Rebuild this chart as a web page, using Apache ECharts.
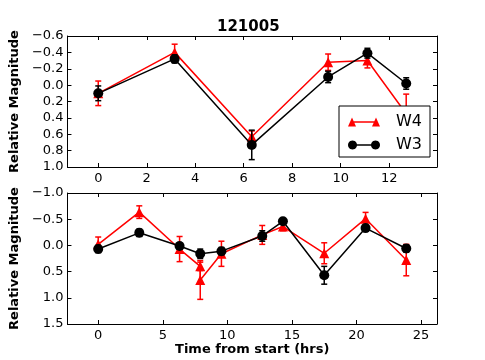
<!DOCTYPE html>
<html>
<head>
<meta charset="utf-8">
<title>121005</title>
<script src="https://cdn.jsdelivr.net/npm/echarts@6/dist/echarts.min.js"></script>
<style>
    html, body { margin: 0; padding: 0; background: #fff; }
    #lightcurve { width: 485px; height: 360px; }
</style>
</head>
<body>
<div id="lightcurve"></div>
<script>

// Data
// ------------------------------

// Top panel
var topTimeW4 = [0, 3.15, 6.33, 9.48, 11.1, 12.7];
var topMagW4  = [0.10, -0.40, 0.63, -0.28, -0.30, 0.35];
var topErrW4  = [0.15, 0.10, 0.07, 0.10, 0.09, 0.24];

var topTimeW3 = [0, 3.15, 6.33, 9.48, 11.1, 12.7];
var topMagW3  = [0.10, -0.32, 0.73, -0.10, -0.39, -0.02];
var topErrW3  = [0.09, 0.05, 0.18, 0.07, 0.06, 0.07];

// Bottom panel
var botTimeW4 = [0, 3.18, 6.3, 7.9, 7.9, 9.54, 12.7, 14.3, 17.5, 20.7, 23.85];
var botMagW4  = [-0.02, -0.635, 0.07, 0.40, 0.66, 0.16, -0.20, -0.36, 0.15, -0.51, 0.28];
var botErrW4  = [0.14, 0.12, 0.24, 0.08, 0.37, 0.24, 0.18, 0.08, 0.20, 0.12, 0.30];

var botTimeW3 = [0, 3.18, 6.3, 7.9, 9.54, 12.7, 14.3, 17.5, 20.7, 23.85];
var botMagW3  = [0.07, -0.24, 0.01, 0.16, 0.11, -0.18, -0.46, 0.57, -0.33, 0.06];
var botErrW3  = [0.07, 0.07, 0.06, 0.09, 0.07, 0.10, 0.05, 0.17, 0.06, 0.07];

var seriesNames = ['W4', 'W3'];
var seriesColors = ['#ff0000', '#000000'];


// Setup module
// ------------------------------

var LightCurveChart = function() {

    var fontFamily = 'DejaVu Sans';

    // zip helpers
    var points = function(t, m) {
        return t.map(function(x, i) { return [x, m[i]]; });
    };
    var bars = function(t, m, e) {
        return t.map(function(x, i) { return [x, m[i], e[i]]; });
    };

    // matplotlib style minus sign
    var magLabel = function(v) {
        var s = (Math.abs(v) < 1e-9 ? 0 : v).toFixed(1);
        return s.replace('-', '\u2212');
    };

    // error bars with caps
    var errorBars = function(name, color, data, axis, z) {
        return {
            name: name,
            type: 'custom',
            xAxisIndex: axis,
            yAxisIndex: axis,
            z: z,
            data: data,
            encode: { x: 0, y: 1 },
            renderItem: function(params, api) {
                var x = api.value(0), y = api.value(1), e = api.value(2);
                var hi = api.coord([x, y - e]);
                var lo = api.coord([x, y + e]);
                var cap = 3;
                var st = { stroke: color, lineWidth: 1.5 };
                return {
                    type: 'group',
                    children: [
                        { type: 'line', shape: { x1: hi[0], y1: hi[1], x2: lo[0], y2: lo[1] }, style: st },
                        { type: 'line', shape: { x1: hi[0] - cap, y1: hi[1], x2: hi[0] + cap, y2: hi[1] }, style: st },
                        { type: 'line', shape: { x1: lo[0] - cap, y1: lo[1], x2: lo[0] + cap, y2: lo[1] }, style: st }
                    ]
                };
            }
        };
    };

    var lineSeries = function(name, color, data, axis, symbol, size, z) {
        return {
            name: name,
            type: 'line',
            xAxisIndex: axis,
            yAxisIndex: axis,
            z: z,
            data: data,
            symbol: symbol,
            symbolSize: size,
            showAllSymbol: true,
            color: color,
            itemStyle: { color: color, borderWidth: 0 },
            lineStyle: { color: color, width: 1.5 },
            emphasis: { disabled: true },
            animation: false
        };
    };

    var frameLine = { show: true, onZero: false, lineStyle: { color: '#000', width: 1 } };
    var inTicks = { show: true, inside: true, length: 4, lineStyle: { color: '#000' } };

    var xAxisDef = function(grid, min, max, split, pos, labels, name) {
        var ax = {
            type: 'value',
            gridIndex: grid,
            position: pos,
            min: min,
            max: max,
            splitNumber: split,
            axisLine: frameLine,
            axisTick: inTicks,
            splitLine: { show: false },
            axisLabel: {
                show: labels,
                showMinLabel: false,
                showMaxLabel: false,
                color: '#000',
                fontFamily: fontFamily,
                fontSize: 13,
                margin: 5
            }
        };
        if (name) {
            ax.name = name;
            ax.nameLocation = 'middle';
            ax.nameGap = 18;
            ax.nameTextStyle = { color: '#000', fontFamily: fontFamily, fontSize: 13, fontWeight: 'bold' };
        }
        return ax;
    };

    var yAxisDef = function(grid, min, max, interval, pos, labels) {
        var ax = {
            type: 'value',
            gridIndex: grid,
            position: pos,
            inverse: true,
            min: min,
            max: max,
            interval: interval,
            axisLine: frameLine,
            axisTick: inTicks,
            splitLine: { show: false },
            axisLabel: {
                show: labels,
                color: '#000',
                fontFamily: fontFamily,
                fontSize: 13,
                margin: 4,
                formatter: magLabel
            }
        };
        if (labels) {
            ax.name = 'Relative Magnitude';
            ax.nameLocation = 'middle';
            ax.nameGap = 34;
            ax.nameTextStyle = { color: '#000', fontFamily: fontFamily, fontSize: 13, fontWeight: 'bold' };
        }
        return ax;
    };

    // legend glyphs: marker - line - marker
    var circle = function(cx, cy, r) {
        var s = '';
        for (var k = 0; k < 24; k++) {
            var a = k / 24 * Math.PI * 2;
            s += (k ? 'L' : 'M') + (cx + r * Math.cos(a)).toFixed(2) + ',' + (cy + r * Math.sin(a)).toFixed(2) + ' ';
        }
        return s + 'Z ';
    };
    var bar = 'M4,3.8 L28,3.8 L28,5.3 L4,5.3 Z';
    var iconW4 = 'path://M0,9 L4,0 L8,9 Z M24,9 L28,0 L32,9 Z ' + bar;
    var iconW3 = 'path://' + circle(4.5, 4.5, 4.5) + circle(27.5, 4.5, 4.5) + bar;

    var _init = function() {
        if (typeof echarts == 'undefined') {
            console.warn('Warning - echarts.min.js is not loaded.');
            return;
        }

        var element = document.getElementById('lightcurve');
        if (!element) return;

        var chart = echarts.init(element, null, { renderer: 'canvas' });

        chart.setOption({
            animation: false,
            backgroundColor: '#fff',
            textStyle: { fontFamily: fontFamily },

            title: {
                text: '121005',
                left: 212,
                top: 15,
                textStyle: { color: '#000', fontSize: 15, fontWeight: 'bold', fontFamily: fontFamily }
            },

            legend: {
                orient: 'vertical',
                left: 339,
                top: 106,
                z: 10,
                padding: [6, 8, 2, 9],
                itemGap: 3,
                itemWidth: 32,
                itemHeight: 9,
                backgroundColor: '#fff',
                borderColor: '#000',
                borderWidth: 1,
                borderRadius: 0,
                selectedMode: false,
                textStyle: { color: '#000', fontSize: 16, lineHeight: 20, fontFamily: fontFamily, padding: [0, 0, 0, 11] },
                data: [
                    { name: seriesNames[0], icon: iconW4, itemStyle: { color: seriesColors[0], borderWidth: 0 } },
                    { name: seriesNames[1], icon: iconW3, itemStyle: { color: seriesColors[1], borderWidth: 0 } }
                ]
            },

            grid: [
                { left: 62, top: 36, width: 375, height: 131 },
                { left: 62, top: 193, width: 375, height: 131 }
            ],

            xAxis: [
                xAxisDef(0, -1.27, 13.97, 8, 'bottom', true),
                xAxisDef(0, -1.27, 13.97, 8, 'top', false),
                xAxisDef(1, -2.38, 26.23, 6, 'bottom', true, 'Time from start (hrs)'),
                xAxisDef(1, -2.38, 26.23, 6, 'top', false)
            ],

            yAxis: [
                yAxisDef(0, -0.6, 1.0, 0.2, 'left', true),
                yAxisDef(0, -0.6, 1.0, 0.2, 'right', false),
                yAxisDef(1, -1.0, 1.5, 0.5, 'left', true),
                yAxisDef(1, -1.0, 1.5, 0.5, 'right', false)
            ],

            series: [
                errorBars(seriesNames[0], seriesColors[0], bars(topTimeW4, topMagW4, topErrW4), 0, 2),
                lineSeries(seriesNames[0], seriesColors[0], points(topTimeW4, topMagW4), 0, 'triangle', 10, 3),
                errorBars(seriesNames[1], seriesColors[1], bars(topTimeW3, topMagW3, topErrW3), 0, 4),
                lineSeries(seriesNames[1], seriesColors[1], points(topTimeW3, topMagW3), 0, 'circle', 10, 5),

                errorBars(seriesNames[0], seriesColors[0], bars(botTimeW4, botMagW4, botErrW4), 2, 2),
                lineSeries(seriesNames[0], seriesColors[0], points(botTimeW4, botMagW4), 2, 'triangle', 10, 3),
                errorBars(seriesNames[1], seriesColors[1], bars(botTimeW3, botMagW3, botErrW3), 2, 4),
                lineSeries(seriesNames[1], seriesColors[1], points(botTimeW3, botMagW3), 2, 'circle', 10, 5)
            ]
        });
    };

    return {
        init: function() {
            _init();
        }
    };
}();


// Initialize module
// ------------------------------

document.addEventListener('DOMContentLoaded', function() {
    LightCurveChart.init();
});
</script>
</body>
</html>
